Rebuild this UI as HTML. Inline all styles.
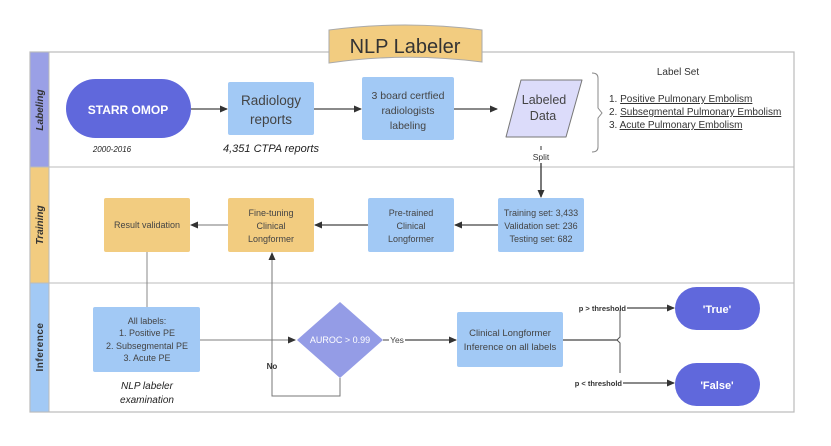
<!DOCTYPE html>
<html><head><style>
body{margin:0;background:#fff;}
svg text{font-family:"Liberation Sans",sans-serif;}
</style></head><body>
<svg width="831" height="441" viewBox="0 0 831 441" xmlns="http://www.w3.org/2000/svg">
<defs>
<marker id="a" markerWidth="8" markerHeight="8" refX="7" refY="4" orient="auto" markerUnits="userSpaceOnUse"><path d="M0,0.5 L8,4 L0,7.5 z" fill="#333"/></marker>
</defs>
<rect x="30" y="52" width="764" height="360" fill="#fff" stroke="#bbb" stroke-width="1.2"/>
<rect x="30" y="52" width="19" height="115" fill="#9aa0e6" stroke="#bbb"/>
<rect x="30" y="167" width="19" height="116" fill="#f2cc80" stroke="#bbb"/>
<rect x="30" y="283" width="19" height="129" fill="#a2c9f5" stroke="#bbb"/>
<line x1="49" y1="167" x2="794" y2="167" stroke="#bbb"/>
<line x1="49" y1="283" x2="794" y2="283" stroke="#bbb"/>
<text transform="translate(43,110) rotate(-90)" font-size="10" font-weight="bold" font-style="italic" text-anchor="middle" fill="#333">Labeling</text>
<text transform="translate(43,225) rotate(-90)" font-size="10" font-weight="bold" font-style="italic" text-anchor="middle" fill="#333">Training</text>
<text transform="translate(43,347) rotate(-90)" font-size="10" font-weight="bold" text-anchor="middle" fill="#333" letter-spacing="0.5">Inference</text>
<path d="M329,30 Q405,20 482,30 L482,62 Q405,52 329,63 Z" fill="#f2cc80" stroke="#aaa"/>
<text x="405" y="53" font-size="20" text-anchor="middle" fill="#333">NLP Labeler</text>
<rect x="66" y="79" width="125" height="59" rx="29.5" fill="#6068dc"/>
<text x="128" y="114" font-size="12" font-weight="bold" text-anchor="middle" fill="#fff">STARR OMOP</text>
<text x="112" y="152" font-size="8" font-style="italic" text-anchor="middle" fill="#222">2000-2016</text>
<line x1="191" y1="109" x2="227" y2="109" stroke="#444" stroke-width="1.3" marker-end="url(#a)"/>
<rect x="228" y="82" width="86" height="53" rx="2" fill="#a2c9f5"/>
<text x="271" y="105" font-size="13.5" text-anchor="middle" fill="#444">Radiology</text>
<text x="271" y="124" font-size="13.5" text-anchor="middle" fill="#444">reports</text>
<text x="271" y="152" font-size="11" font-style="italic" text-anchor="middle" fill="#222">4,351 CTPA reports</text>
<line x1="314" y1="109" x2="361" y2="109" stroke="#444" stroke-width="1.3" marker-end="url(#a)"/>
<rect x="362" y="77" width="92" height="63" rx="2" fill="#a2c9f5"/>
<text x="408" y="99" font-size="10.5" text-anchor="middle" fill="#444">3 board certfied</text>
<text x="408" y="114" font-size="10.5" text-anchor="middle" fill="#444">radiologists</text>
<text x="408" y="129" font-size="10.5" text-anchor="middle" fill="#444">labeling</text>
<line x1="454" y1="109" x2="497" y2="109" stroke="#444" stroke-width="1.3" marker-end="url(#a)"/>
<path d="M521,80 L582,80 L566,137 L506,137 Z" fill="#dcdcfa" stroke="#777" stroke-linejoin="round"/>
<text x="544" y="104" font-size="12.5" text-anchor="middle" fill="#444">Labeled</text>
<text x="543" y="120" font-size="12.5" text-anchor="middle" fill="#444">Data</text>
<path d="M592,73 Q598,73 598,78 L598,108 L602,113 L598,118 L598,147 Q598,152 592,152" fill="none" stroke="#888"/>
<text x="678" y="75" font-size="10" text-anchor="middle" fill="#333">Label Set</text>
<g font-size="10" fill="#333">
<text x="609" y="102">1. <tspan text-decoration="underline">Positive Pulmonary Embolism</tspan></text>
<text x="609" y="115">2. <tspan text-decoration="underline">Subsegmental Pulmonary Embolism</tspan></text>
<text x="609" y="128">3. <tspan text-decoration="underline">Acute Pulmonary Embolism</tspan></text>
</g>
<line x1="541" y1="146" x2="541" y2="150" stroke="#333"/>
<text x="541" y="160" font-size="8.5" text-anchor="middle" fill="#333">Split</text>
<line x1="541" y1="163" x2="541" y2="197" stroke="#333" stroke-width="1.3" marker-end="url(#a)"/>
<rect x="498" y="198" width="86" height="54" rx="2" fill="#a2c9f5"/>
<g font-size="9" text-anchor="middle" fill="#444">
<text x="541" y="216">Training set: 3,433</text>
<text x="541" y="229">Validation set: 236</text>
<text x="541" y="242">Testing set: 682</text>
</g>
<line x1="498" y1="225" x2="455" y2="225" stroke="#444" stroke-width="1.3" marker-end="url(#a)"/>
<rect x="368" y="198" width="86" height="54" rx="2" fill="#a2c9f5"/>
<g font-size="9" text-anchor="middle" fill="#444">
<text x="411" y="216">Pre-trained</text>
<text x="411" y="229">Clinical</text>
<text x="411" y="242">Longformer</text>
</g>
<line x1="368" y1="225" x2="315" y2="225" stroke="#444" stroke-width="1.3" marker-end="url(#a)"/>
<rect x="228" y="198" width="86" height="54" rx="2" fill="#f2cc80"/>
<g font-size="9" text-anchor="middle" fill="#444">
<text x="271" y="216">Fine-tuning</text>
<text x="271" y="229">Clinical</text>
<text x="271" y="242">Longformer</text>
</g>
<line x1="228" y1="225" x2="191" y2="225" stroke="#777" stroke-width="1" marker-end="url(#a)"/>
<rect x="104" y="198" width="86" height="54" rx="2" fill="#f2cc80"/>
<text x="147" y="228" font-size="9" text-anchor="middle" fill="#444">Result validation</text>
<line x1="147" y1="252" x2="147" y2="307" stroke="#888"/>
<rect x="93" y="307" width="107" height="65" rx="2" fill="#a2c9f5"/>
<g font-size="9" text-anchor="middle" fill="#444">
<text x="147" y="324">All labels:</text>
<text x="147" y="336">1. Positive PE</text>
<text x="147" y="349">2. Subsegmental PE</text>
<text x="147" y="361">3. Acute PE</text>
</g>
<text x="147" y="389" font-size="10" font-style="italic" text-anchor="middle" fill="#222">NLP labeler</text>
<text x="147" y="403" font-size="10" font-style="italic" text-anchor="middle" fill="#222">examination</text>
<line x1="200" y1="340" x2="295" y2="340" stroke="#999" stroke-width="1.2" marker-end="url(#a)"/>
<path d="M340,302 L383,340 L340,378 L297,340 Z" fill="#949ce6"/>
<text x="340" y="343" font-size="9" text-anchor="middle" fill="#fff">AUROC &gt; 0.99</text>
<path d="M340,378 L340,396 L272,396 L272,253" fill="none" stroke="#777" marker-end="url(#a)"/>
<text x="272" y="369" font-size="8" font-weight="bold" text-anchor="middle" fill="#333">No</text>
<line x1="383" y1="340" x2="389" y2="340" stroke="#444"/>
<text x="397" y="343" font-size="8.5" text-anchor="middle" fill="#444">Yes</text>
<line x1="405" y1="340" x2="456" y2="340" stroke="#444" stroke-width="1.3" marker-end="url(#a)"/>
<rect x="457" y="312" width="106" height="55" rx="2" fill="#a2c9f5"/>
<text x="510" y="336" font-size="9.5" text-anchor="middle" fill="#444">Clinical Longformer</text>
<text x="510" y="350" font-size="9.5" text-anchor="middle" fill="#444">Inference on all labels</text>
<line x1="563" y1="340" x2="618" y2="340" stroke="#444" stroke-width="1.3"/>
<path d="M620,310 L620,337 L617,340 L620,343 L620,373" fill="none" stroke="#555"/>
<text x="626" y="311" font-size="7.5" font-weight="bold" text-anchor="end" fill="#333">p &gt; threshold</text>
<line x1="627" y1="308" x2="674" y2="308" stroke="#444" stroke-width="1.3" marker-end="url(#a)"/>
<text x="622" y="386" font-size="7.5" font-weight="bold" text-anchor="end" fill="#333">p &lt; threshold</text>
<line x1="623" y1="383" x2="674" y2="383" stroke="#444" stroke-width="1.3" marker-end="url(#a)"/>
<rect x="675" y="287" width="85" height="43" rx="21.5" fill="#6068dc"/>
<text x="717" y="313" font-size="11" font-weight="bold" text-anchor="middle" fill="#fff">'True'</text>
<rect x="675" y="363" width="85" height="43" rx="21.5" fill="#6068dc"/>
<text x="717" y="389" font-size="11" font-weight="bold" text-anchor="middle" fill="#fff">'False'</text>
</svg>
</body></html>
